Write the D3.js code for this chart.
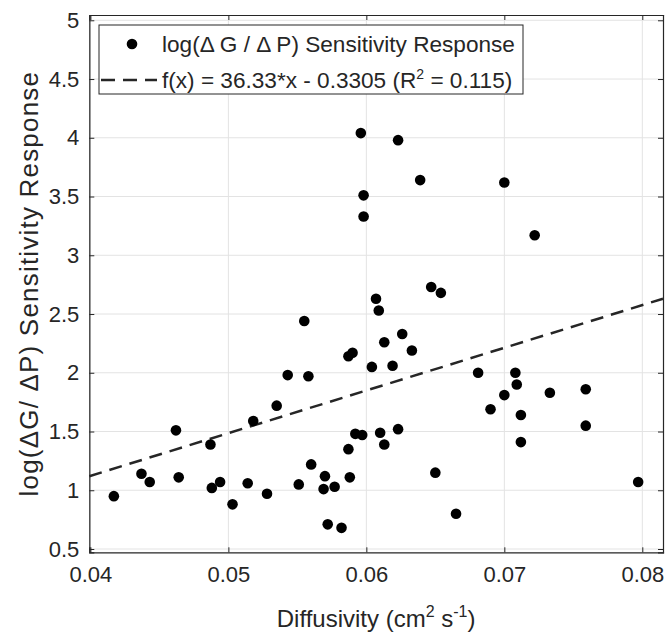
<!DOCTYPE html>
<html>
<head>
<meta charset="utf-8">
<script src="https://cdn.jsdelivr.net/npm/d3@7"></script>
<style>
  body { margin: 0; background: #fff; }
  text { font-family: "Liberation Sans", Arial, Helvetica, sans-serif; fill: #262626; }
</style>
</head>
<body>
<div id="chart"></div>
<script>
// diffusivity (cm^2 s^-1) and log(dG/dP) sensitivity response
const diffusivity = [
  0.0417, 0.0437, 0.0443, 0.0462, 0.0464, 0.0487, 0.0488, 0.0494, 0.0503, 0.0514,
  0.0518, 0.0528, 0.0535, 0.0543, 0.0551, 0.0555, 0.0558, 0.0560, 0.0569, 0.0570,
  0.0572, 0.0577, 0.0582, 0.0587, 0.0588, 0.0587, 0.0590, 0.0592, 0.0597, 0.0604,
  0.0607, 0.0609, 0.0610, 0.0613, 0.0613, 0.0619, 0.0623, 0.0626, 0.0633, 0.0647,
  0.0650, 0.0654, 0.0665, 0.0681, 0.0690, 0.0700, 0.0708, 0.0709, 0.0712, 0.0712,
  0.0733, 0.0759, 0.0759, 0.0797, 0.0596, 0.0623, 0.0639, 0.0700, 0.0598, 0.0598,
  0.0722
];
const sensitivity = [
  0.95, 1.14, 1.07, 1.51, 1.11, 1.39, 1.02, 1.07, 0.88, 1.06,
  1.59, 0.97, 1.72, 1.98, 1.05, 2.44, 1.97, 1.22, 1.01, 1.12,
  0.71, 1.03, 0.68, 1.35, 1.11, 2.14, 2.17, 1.48, 1.47, 2.05,
  2.63, 2.53, 1.49, 2.26, 1.39, 2.06, 1.52, 2.33, 2.19, 2.73,
  1.15, 2.68, 0.80, 2.00, 1.69, 1.81, 2.00, 1.90, 1.64, 1.41,
  1.83, 1.86, 1.55, 1.07, 4.04, 3.98, 3.64, 3.62, 3.51, 3.33,
  3.17
];
const slope = 36.33;
const intercept = -0.3305;

const xTicks = [0.04, 0.05, 0.06, 0.07, 0.08];
const yTicks = [0.5, 1, 1.5, 2, 2.5, 3, 3.5, 4, 4.5, 5];

const legendLabels = ["log(\u0394 G / \u0394 P) Sensitivity Response", "f(x) = 36.33*x - 0.3305 (R", "2", " = 0.115)"];

const width = 666;
const height = 632;
const margin = { top: 15, left: 89.3, bottom: 80, right: 3 };

const svg = d3.select("#chart")
  .append("svg")
  .attr("width", width)
  .attr("height", height);

const x = d3.scaleLinear().domain([0.03992, 0.0815]).range([margin.left, width - margin.right]);
const y = d3.scaleLinear().domain([0.472, 5.045]).range([height - margin.bottom + 0.3, margin.top]);

const axisColor = "#262626";
const fs = 22;

// grid
svg.append("g")
  .selectAll("line")
  .data(xTicks)
  .join("line")
  .attr("x1", d => x(d)).attr("x2", d => x(d))
  .attr("y1", y.range()[0]).attr("y2", y.range()[1])
  .attr("stroke", "#e3e3e3");

svg.append("g")
  .selectAll("line")
  .data(yTicks)
  .join("line")
  .attr("x1", x.range()[0]).attr("x2", x.range()[1])
  .attr("y1", d => y(d)).attr("y2", d => y(d))
  .attr("stroke", "#e3e3e3");

// axes (ticks inward, box on)
const xAxis = svg.append("g")
  .attr("transform", `translate(0,${y.range()[0]})`)
  .call(d3.axisBottom(x).tickValues(xTicks).tickSize(-5).tickPadding(14).tickFormat(d3.format(".2f")));
const xTop = svg.append("g")
  .attr("transform", `translate(0,${y.range()[1]})`)
  .call(d3.axisTop(x).tickValues(xTicks).tickSize(-5).tickFormat(""));
const yAxis = svg.append("g")
  .attr("transform", `translate(${x.range()[0]},0)`)
  .call(d3.axisLeft(y).tickValues(yTicks).tickSize(-5).tickPadding(10).tickFormat(d => d));
const yRight = svg.append("g")
  .attr("transform", `translate(${x.range()[1]},0)`)
  .call(d3.axisRight(y).tickValues(yTicks).tickSize(-5).tickFormat(""));

[xAxis, xTop, yAxis, yRight].forEach(g => {
  g.select(".domain").attr("stroke", axisColor).attr("stroke-width", 1.2);
  g.selectAll(".tick line").attr("stroke", axisColor);
  g.selectAll(".tick text")
    .attr("font-size", fs)
    .attr("font-family", '"Liberation Sans", Arial, sans-serif')
    .attr("fill", axisColor);
});
svg.selectAll(".domain").each(function () { d3.select(this).attr("d", d3.select(this).attr("d").replace(/V-?5/g, "V0")); });

// fit line
const fitX = x.domain();
svg.append("line")
  .attr("x1", x(fitX[0])).attr("y1", y(slope * fitX[0] + intercept))
  .attr("x2", x(fitX[1])).attr("y2", y(slope * fitX[1] + intercept))
  .attr("stroke", "#262626")
  .attr("stroke-width", 2.5)
  .attr("stroke-dasharray", "13,8");

// points
svg.append("g")
  .selectAll("circle")
  .data(diffusivity.map((d, i) => [d, sensitivity[i]]))
  .join("circle")
  .attr("cx", d => x(d[0]))
  .attr("cy", d => y(d[1]))
  .attr("r", 5.3)
  .attr("fill", "#000");

// axis labels
const xl = svg.append("text")
  .attr("x", (x.range()[0] + x.range()[1]) / 2)
  .attr("y", 627)
  .attr("text-anchor", "middle")
  .attr("font-size", 24);
xl.append("tspan").text("Diffusivity (cm");
xl.append("tspan").attr("font-size", 16).attr("dy", -10).text("2");
xl.append("tspan").attr("dy", 10).text(" s");
xl.append("tspan").attr("font-size", 16).attr("dy", -10).text("-1");
xl.append("tspan").attr("dy", 10).text(")");

svg.append("text")
  .attr("transform", `translate(38,${(y.range()[0] + y.range()[1]) / 2}) rotate(-90)`)
  .attr("text-anchor", "middle")
  .attr("font-size", 26)
  .attr("letter-spacing", 1.2)
  .text("log(\u0394G/ \u0394P) Sensitivity Response");

// legend
const lg = svg.append("g");
lg.append("rect")
  .attr("x", 99).attr("y", 25).attr("width", 424).attr("height", 69)
  .attr("fill", "#fff").attr("stroke", axisColor).attr("stroke-width", 1);
lg.append("circle").attr("cx", 132).attr("cy", 44).attr("r", 5.3).attr("fill", "#000");
lg.append("text").attr("x", 162).attr("y", 44).attr("dy", "0.35em").attr("font-size", 22.6).text(legendLabels[0]);
lg.append("line")
  .attr("x1", 101).attr("x2", 157).attr("y1", 80).attr("y2", 80)
  .attr("stroke", "#262626").attr("stroke-width", 2.5).attr("stroke-dasharray", "14,8");
const l2 = lg.append("text").attr("x", 162).attr("y", 80).attr("dy", "0.35em").attr("font-size", 22.6);
l2.append("tspan").text(legendLabels[1]);
l2.append("tspan").attr("font-size", 14).attr("dy", -9).text(legendLabels[2]);
l2.append("tspan").attr("dy", 9).text(legendLabels[3]);
</script>
</body>
</html>
